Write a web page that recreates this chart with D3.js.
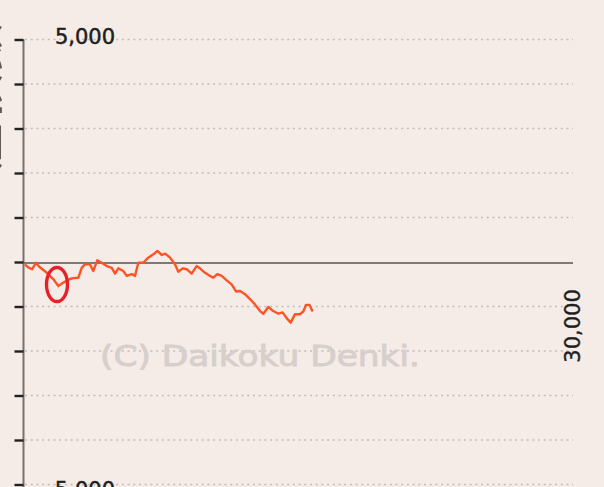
<!DOCTYPE html>
<html><head><meta charset="utf-8">
<script src="https://cdn.jsdelivr.net/npm/d3@7"></script>
<style>html,body{margin:0;padding:0;background:#f5ece7;overflow:hidden}</style>
</head><body>
<svg id="c" width="604" height="487"></svg>
<script>
const games = [100,300,500,700,900,1300,1650,1930,2200,2560,2740,3020,3200,3380,3650,3830,4050,4290,4570,4840,5020,5200,5470,5660,5930,6110,6290,6560,6830,7110,7330,7570,7750,8020,8290,8470,8710,8930,9200,9470,9650,9930,10200,10380,10600,10840,11110,11380,11620,11840,12110,12380,12650,12930,13110,13380,13650,13930,14160,14380,14600,14840,15110,15290,15440,15620,15800];
const diff = [-30,-105,-140,5,-90,-220,-360,-520,-440,-360,-340,-330,-110,-30,-30,-180,60,5,-70,-110,-240,-120,-180,-290,-250,-290,5,5,120,195,270,180,210,120,-30,-195,-120,-140,-240,-70,-120,-220,-290,-330,-250,-290,-390,-480,-640,-630,-700,-810,-930,-1080,-1140,-990,-1080,-1140,-1110,-1240,-1340,-1150,-1150,-1090,-940,-940,-1090];
const yTicks = [5000,4000,3000,2000,1000,0,-1000,-2000,-3000,-4000,-5000];
const yLabels = [{v:5000,t:"5,000"},{v:-5000,t:"-5,000"}];
const xLabel = "30,000";
const yTitle = "差枚数";
const watermark = "(C) Daikoku Denki.";

const svg = d3.select("#c");
const x = d3.scaleLinear().domain([0,30000]).range([23,573]);
const y = d3.scaleLinear().domain([-5000,5000]).range([484.5,39.5]);

svg.append("rect").attr("width",604).attr("height",487).attr("fill","#f5ece7");

// clipped axis title at left edge
svg.append("text").attr("transform","translate(-3.2,97) rotate(-90)")
  .attr("text-anchor","middle").attr("font-family","Noto Sans CJK JP").attr("font-weight","bold")
  .attr("font-size",50).attr("fill","#5e5a58").text(yTitle);

// grid
svg.append("g").selectAll("line").data(yTicks.filter(d=>d!==0)).join("line")
  .attr("x1",25).attr("x2",573).attr("y1",d=>y(d)).attr("y2",d=>y(d))
  .attr("stroke","#c4bcb8").attr("stroke-width",1.4).attr("stroke-dasharray","2,3.7");

// watermark
svg.append("text").attr("x",100).attr("y",366).attr("font-family","DejaVu Sans")
  .attr("font-size",29).attr("fill","#d7cfcb").attr("stroke","#d7cfcb").attr("stroke-width",0.9)
  .attr("textLength",320).attr("lengthAdjust","spacingAndGlyphs")
  .text(watermark);

// zero line
svg.append("line").attr("x1",23).attr("x2",573).attr("y1",y(0)+1).attr("y2",y(0)+1)
  .attr("stroke","#7d7977").attr("stroke-width",2);

// y axis
const ax = svg.append("g").attr("transform","translate(23.5,0)")
  .call(d3.axisLeft(y).tickValues(yTicks).tickSize(9).tickFormat(""));
ax.select(".domain").attr("stroke","#77716e").attr("stroke-width",2).attr("d","M0,"+y(5000)+"V500");
ax.selectAll(".tick line").attr("stroke","#222").attr("stroke-width",2.4);

// labels
svg.selectAll("text.yl").data(yLabels).join("text").attr("class","yl")
  .attr("x",115).attr("y",d=>d.v>0? y(d.v)+4 : y(d.v)+12)
  .attr("text-anchor","end").attr("font-family","DejaVu Sans").attr("font-size",21)
  .attr("fill","#1e1e1e").attr("stroke","#1e1e1e").attr("stroke-width",0.5)
  .text(d=>d.t);
svg.append("text").attr("transform",`translate(${x(30000)+7},326) rotate(-90)`)
  .attr("text-anchor","middle").attr("font-family","DejaVu Sans").attr("font-size",21)
  .attr("fill","#1e1e1e").attr("stroke","#1e1e1e").attr("stroke-width",0.4)
  .text(xLabel);

// line
const line = d3.line().x((d,i)=>x(games[i])).y(d=>y(d)+1);
svg.append("path").datum(diff).attr("d",line).attr("fill","none")
  .attr("stroke","#ff5326").attr("stroke-width",2.4).attr("stroke-linejoin","round");

// annotation ellipse
svg.append("ellipse").attr("cx",57).attr("cy",284.5).attr("rx",10.5).attr("ry",17)
  .attr("fill","none").attr("stroke","#e8202a").attr("stroke-width",3.4);
</script>
</body></html>
